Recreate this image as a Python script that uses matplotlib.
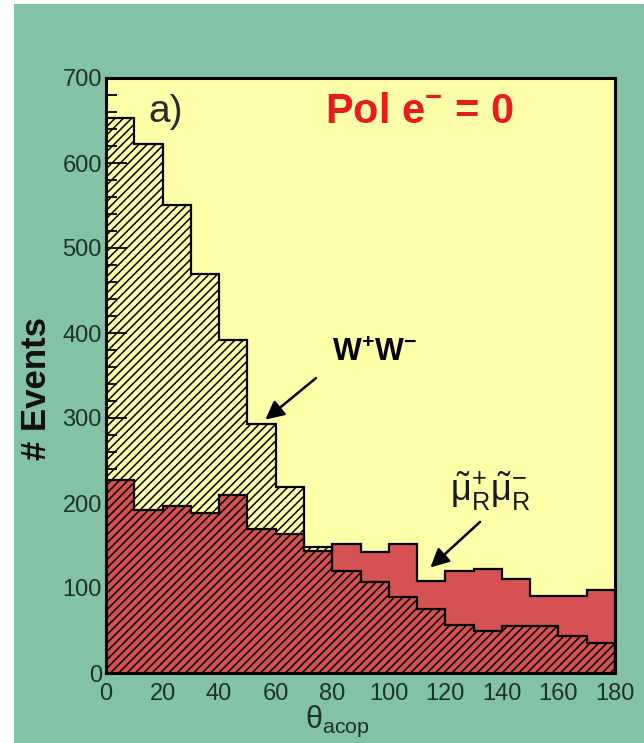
import numpy as np
import matplotlib
matplotlib.use("Agg")
import matplotlib.pyplot as plt
from matplotlib.patches import Rectangle
from matplotlib.ticker import MultipleLocator

# acoplanarity angle bins (degrees)
edges = np.arange(0, 190, 10)

# W+W- background
ww = [653, 622, 551, 469, 392, 293, 219, 148, 120, 107, 90, 75, 57, 49, 55, 55, 43, 35]
# smuon pair signal
smuon = [227, 192, 196, 188, 210, 170, 164, 144, 152, 142, 152, 108, 120, 122, 111, 91, 91, 98]

green = "#84c2a6"
yellow = "#ffffaa"
red = "#d65252"
tick_col = "#1e3326"

plt.rcParams["font.family"] = ["Liberation Sans Narrow", "Liberation Sans", "DejaVu Sans"]
plt.rcParams["mathtext.fontset"] = "custom"
plt.rcParams["mathtext.rm"] = "Liberation Sans"
plt.rcParams["mathtext.it"] = "Liberation Sans"
plt.rcParams["mathtext.bf"] = "Liberation Sans:bold"
plt.rcParams["mathtext.default"] = "regular"
plt.rcParams["hatch.linewidth"] = 1.1

fig = plt.figure(figsize=(6.44, 7.43), dpi=100, facecolor="white")
fig.patches.append(Rectangle((14 / 644, 0), 1, 1 - 4 / 743, transform=fig.transFigure,
                             facecolor=green, edgecolor="none", zorder=-10))

ax = fig.add_axes([106 / 644, 70 / 743, 509 / 644, 595 / 743])
ax.set_facecolor(yellow)

ax.stairs(smuon, edges, fill=True, facecolor=red, edgecolor="none", zorder=2)
ax.stairs(smuon, edges, color="black", lw=1.6, zorder=4)
ax.stairs(ww, edges, fill=True, facecolor="none", edgecolor="black", hatch="////",
          lw=0, zorder=3)
ax.stairs(ww, edges, color="black", lw=1.6, zorder=4)

ax.set_xlim(0, 180)
ax.set_ylim(0, 700)
ax.xaxis.set_major_locator(MultipleLocator(20))
ax.xaxis.set_minor_locator(MultipleLocator(10))
ax.yaxis.set_major_locator(MultipleLocator(100))
ax.yaxis.set_minor_locator(MultipleLocator(20))
ax.tick_params(which="both", direction="in", top=False, right=False,
               colors="black", labelcolor=tick_col, labelsize=17, width=1.3)
ax.tick_params(which="major", length=15)
ax.tick_params(which="minor", length=8)
ax.tick_params(axis="x", pad=7)
ax.tick_params(axis="y", pad=3)
for s in ax.spines.values():
    s.set_linewidth(2.2)
    s.set_zorder(6)

fig.text(37 / 644, 1 - 388 / 743, "# Events", rotation=90, ha="center", va="center",
         fontsize=25, fontweight="bold", family="Liberation Sans", color="#101010")
fig.text(337 / 644, 1 - 721 / 743, r"$\theta_{acop}$", ha="center", va="center",
         fontsize=22, color=tick_col)

ax.text(21, 660, "a)", ha="center", va="center", fontsize=28, color="#2a2a2a",
        family="Liberation Sans", zorder=7)
ax.text(111, 660, r"Pol e$^{-}$ = 0", ha="center", va="center", fontsize=30,
        fontweight="bold", color="#e81c1c", family="Liberation Sans", zorder=7)

ax.text(95, 376, r"W$^{\mathbf{+}}$W$^{\mathbf{-}}$", ha="center", va="center",
        fontsize=22, fontweight="bold", family="Liberation Sans", zorder=7)
ax.annotate("", xy=(55.6, 296), xytext=(75, 349),
            arrowprops=dict(arrowstyle="-|>", mutation_scale=28, lw=1.8, color="black"),
            zorder=7)

ax.text(136, 214, r"$\tilde{\mu}^{+}_{R}\tilde{\mu}^{-}_{R}$", ha="center", va="center",
        fontsize=26, color="#1a1a1a", zorder=7)
ax.annotate("", xy=(114, 122), xytext=(133, 180),
            arrowprops=dict(arrowstyle="-|>", mutation_scale=28, lw=1.8, color="black"),
            zorder=7)

fig.savefig("out.png", dpi=100, facecolor=fig.get_facecolor())
